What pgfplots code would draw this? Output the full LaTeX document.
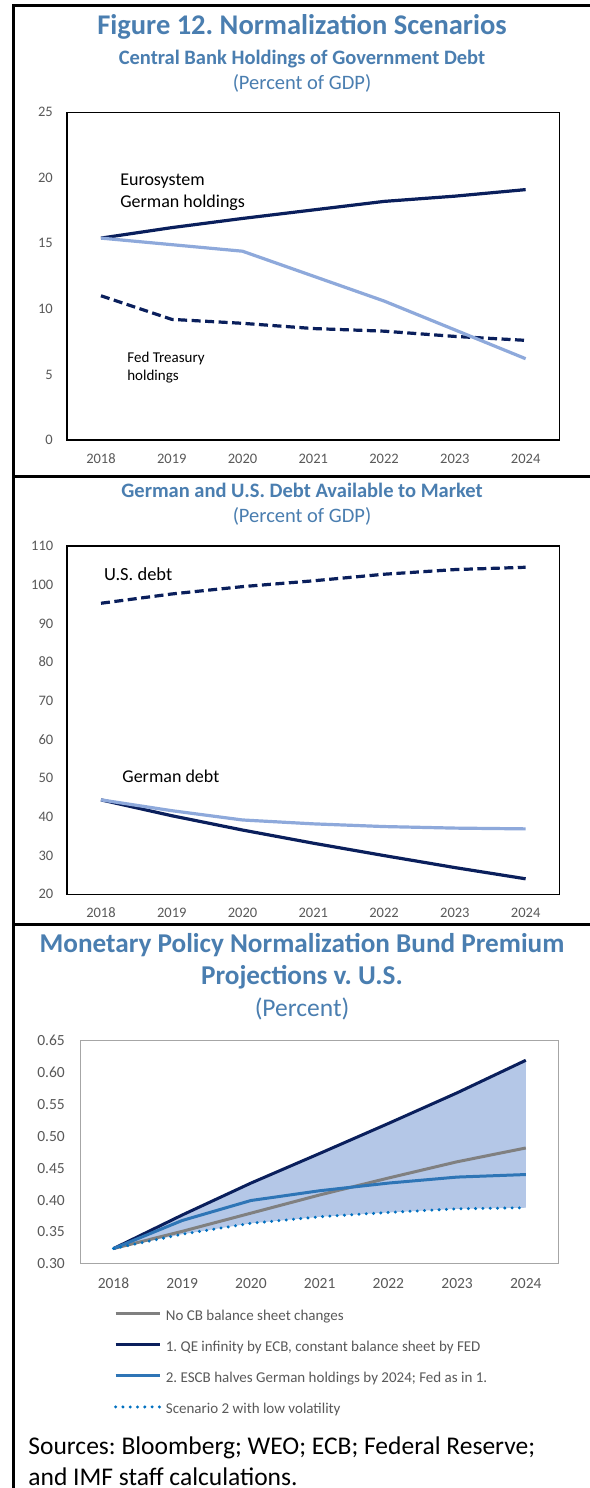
\documentclass[border=0pt]{standalone}
\usepackage{fontspec}
\setmainfont{Carlito}
\usepackage{pgfplots}
\pgfplotsset{compat=1.18}
\frenchspacing

\definecolor{ttl}{RGB}{74,126,176}
\definecolor{navy}{RGB}{10,31,92}
\definecolor{lblue}{RGB}{142,169,219}
\definecolor{mblue}{RGB}{46,117,182}
\definecolor{dblue}{RGB}{0,112,192}
\definecolor{cbgrey}{RGB}{128,128,128}
\definecolor{fillb}{RGB}{180,199,231}
\definecolor{tickg}{RGB}{89,89,89}

\pgfplotsset{
  base/.style={
    scale only axis, clip=false,
    axis line style={line width=1.1bp},
    xmin=2017.52, xmax=2024.48,
    xtick={2018,2019,2020,2021,2022,2023,2024},
    xticklabels={2018,2019,2020,2021,2022,2023,2024},
    major tick length=0pt,
    /pgf/number format/assume math mode=true,
    tick label style={font=\fontsize{14.5bp}{16bp}\selectfont, text=tickg, inner sep=0pt},
    xticklabel style={anchor=base},
    yticklabel style={anchor=east},
  },
}

\begin{document}
\begin{tikzpicture}[x=1bp,y=1bp]
\useasboundingbox (0,0) rectangle (590,1488);
\clip (0,0) rectangle (590,1488);
\fill[white] (0,0) rectangle (590,1488);

% frame
\draw[line width=3bp] (13.2,0) -- (13.2,1482) -- (592,1482);
\draw[line width=3bp] (13.2,1011) -- (592,1011);
\draw[line width=3bp] (13.2,563.7) -- (592,563.7);

% titles panel 1
\node[anchor=base, text=ttl, font=\fontsize{28.5bp}{34bp}\selectfont\bfseries] at (302,1453.8) {Figure 12. Normalization Scenarios};
\node[anchor=base, text=ttl, font=\fontsize{20.5bp}{24bp}\selectfont\bfseries] at (302,1423.4) {Central Bank Holdings of Government Debt};
\node[anchor=base, text=ttl, font=\fontsize{20.5bp}{24bp}\selectfont] at (302,1398.3) {(Percent of GDP)};

% panel 1
\begin{axis}[base, at={(67bp,1048bp)}, anchor=south west, width=492.6bp, height=327.7bp,
  xticklabel style={yshift=-23.6bp}, yticklabel style={xshift=-14bp},
  ymin=0, ymax=25, ytick={0,5,10,15,20,25}]
\addplot[navy, line width=3.2bp] coordinates {(2018,15.4) (2019,16.2) (2020,16.9) (2021,17.55) (2022,18.2) (2023,18.6) (2024,19.1)};
\addplot[navy, line width=3.2bp, dash pattern=on 9bp off 4.5bp] coordinates {(2018,11.0) (2019,9.2) (2020,8.9) (2021,8.5) (2022,8.3) (2023,7.9) (2024,7.6)};
\addplot[lblue, line width=3.2bp] coordinates {(2018,15.4) (2019,14.9) (2020,14.4) (2021,12.5) (2022,10.6) (2023,8.4) (2024,6.2)};
\node[anchor=west, inner sep=0pt, font=\fontsize{18bp}{21bp}\selectfont] at (axis cs:2018.27,19.78) {Eurosystem};
\node[anchor=west, inner sep=0pt, font=\fontsize{18bp}{21bp}\selectfont] at (axis cs:2018.27,18.13) {German holdings};
\node[anchor=west, inner sep=0pt, font=\fontsize{15bp}{18bp}\selectfont] at (axis cs:2018.37,6.23) {Fed Treasury};
\node[anchor=west, inner sep=0pt, font=\fontsize{15bp}{18bp}\selectfont] at (axis cs:2018.37,4.83) {holdings};
\end{axis}

% titles panel 2
\node[anchor=base, text=ttl, font=\fontsize{20.5bp}{24bp}\selectfont\bfseries] at (302,990.7) {German and U.S. Debt Available to Market};
\node[anchor=base, text=ttl, font=\fontsize{20.5bp}{24bp}\selectfont] at (302,965.6) {(Percent of GDP)};

% panel 2
\begin{axis}[base, at={(67bp,593.7bp)}, anchor=south west, width=492.6bp, height=348.3bp,
  xticklabel style={yshift=-23.6bp}, yticklabel style={xshift=-13.6bp},
  ymin=20, ymax=110, ytick={20,30,40,50,60,70,80,90,100,110}]
\addplot[navy, line width=3.2bp, dash pattern=on 9bp off 4.5bp] coordinates {(2018,95.2) (2019,97.6) (2020,99.5) (2021,101.0) (2022,102.7) (2023,103.9) (2024,104.5)};
\addplot[navy, line width=3.2bp] coordinates {(2018,44.4) (2019,40.3) (2020,36.6) (2021,33.2) (2022,30.0) (2023,26.9) (2024,24.0)};
\addplot[lblue, line width=3.2bp] coordinates {(2018,44.4) (2019,41.6) (2020,39.2) (2021,38.2) (2022,37.5) (2023,37.1) (2024,36.9)};
\node[anchor=west, inner sep=0pt, font=\fontsize{18.5bp}{21bp}\selectfont] at (axis cs:2018.04,102.7) {U.S. debt};
\node[anchor=west, inner sep=0pt, font=\fontsize{18bp}{21bp}\selectfont] at (axis cs:2018.3,50.57) {German debt};
\end{axis}

% titles panel 3
\node[anchor=base, text=ttl, font=\fontsize{27.2bp}{32bp}\selectfont\bfseries] at (302,535.7) {Monetary Policy Normalization Bund Premium};
\node[anchor=base, text=ttl, font=\fontsize{27.2bp}{32bp}\selectfont\bfseries] at (302,503.2) {Projections v. U.S.};
\node[anchor=base, text=ttl, font=\fontsize{25.5bp}{30bp}\selectfont] at (302,471) {(Percent)};

% panel 3
\begin{axis}[base, at={(80.5bp,224.1bp)}, anchor=south west, width=478.3bp, height=223.4bp,
  axis line style={line width=1.1bp, draw=black!35},
  ymin=0.30, ymax=0.65, ytick={0.30,0.35,0.40,0.45,0.50,0.55,0.60,0.65},
  tick label style={font=\fontsize{15.5bp}{17bp}\selectfont},
  yticklabel style={/pgf/number format/fixed, /pgf/number format/fixed zerofill, /pgf/number format/precision=2, /tikz/xshift=-15.5bp},
  xticklabel style={yshift=-24.9bp},
  legend cell align=left,
  legend style={draw=none, fill=none, inner sep=0pt, outer sep=0pt,
    at={(axis description cs:0.070,-0.205)}, anchor=north west,
    row sep=17.5bp, column sep=4.6bp,
    nodes={inner sep=0pt, text=tickg, font=\fontsize{15bp}{17bp}\selectfont, text height=10.5bp, text depth=3bp}},
  legend image code/.code={\draw[#1] (0bp,2.5bp) -- (44bp,2.5bp);},
]
\addplot[fill=fillb, draw=none, forget plot] coordinates {(2018,0.324) (2019,0.3766) (2020,0.4266) (2021,0.473) (2022,0.520) (2023,0.568) (2024,0.619) (2024,0.388) (2023,0.3863) (2022,0.3806) (2021,0.3738) (2020,0.3636) (2019,0.3465) (2018,0.324)} -- cycle;
\addplot[cbgrey, line width=3bp] coordinates {(2018,0.324) (2019,0.351) (2020,0.3795) (2021,0.408) (2022,0.4345) (2023,0.460) (2024,0.4816)};
\addlegendentry{No CB balance sheet changes}
\addplot[navy, line width=3bp] coordinates {(2018,0.324) (2019,0.3766) (2020,0.4266) (2021,0.473) (2022,0.520) (2023,0.568) (2024,0.619)};
\addlegendentry{1. QE infinity by ECB, constant balance sheet by FED}
\addplot[mblue, line width=3bp] coordinates {(2018,0.324) (2019,0.368) (2020,0.3993) (2021,0.4146) (2022,0.4266) (2023,0.436) (2024,0.440)};
\addlegendentry{2. ESCB halves German holdings by 2024; Fed as in 1.}
\addplot[dblue, line width=3.3bp, line cap=round, dash pattern=on 0bp off 7.3bp] coordinates {(2018,0.324) (2019,0.3465) (2020,0.3636) (2021,0.3738) (2022,0.3806) (2023,0.3863) (2024,0.388)};
\addlegendentry{Scenario 2 with low volatility}
\end{axis}

% sources
\node[anchor=base west, inner sep=0pt, font=\fontsize{25.5bp}{31bp}\selectfont] at (28.2,33) {Sources: Bloomberg; WEO; ECB; Federal Reserve;};
\node[anchor=base west, inner sep=0pt, font=\fontsize{25.5bp}{31bp}\selectfont] at (28.2,2) {and IMF staff calculations.};
\end{tikzpicture}
\end{document}
